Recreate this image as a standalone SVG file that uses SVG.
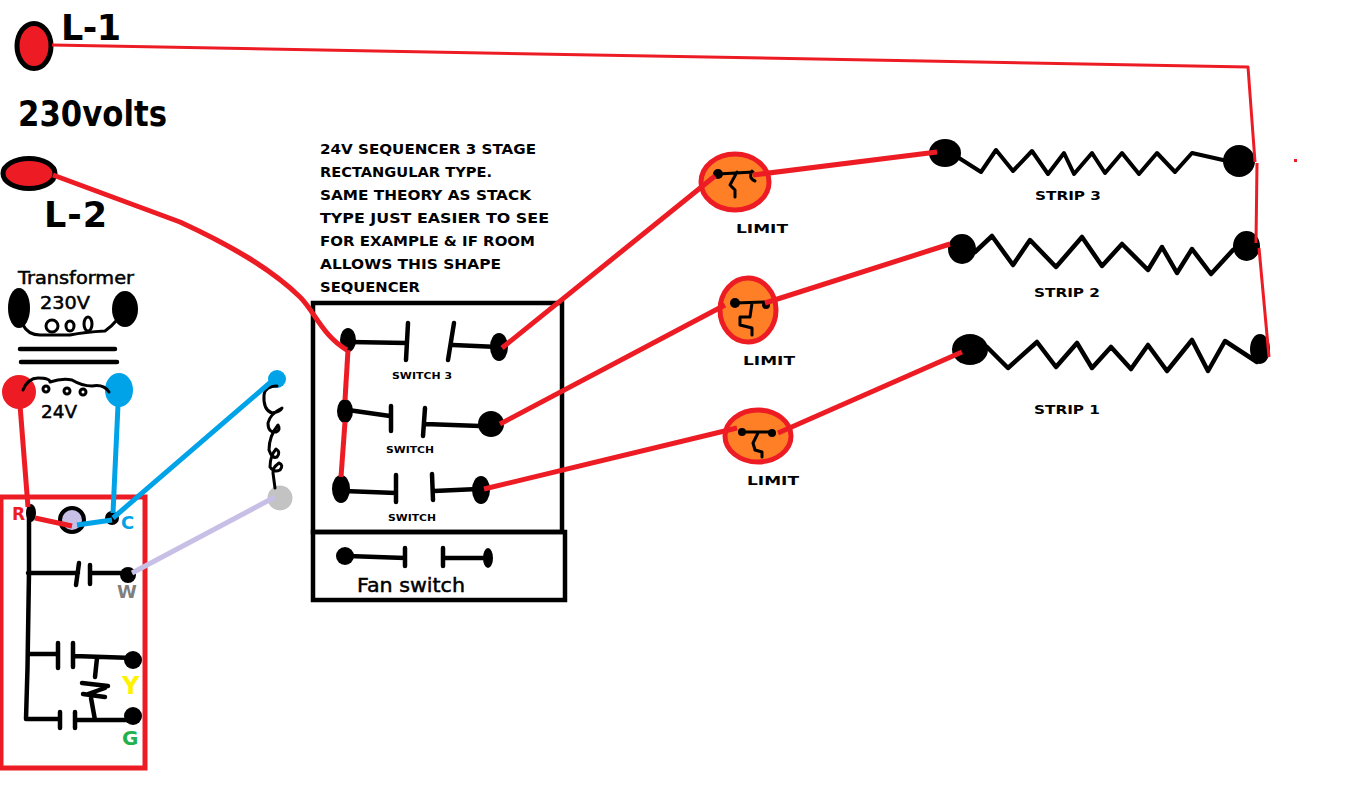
<svg xmlns="http://www.w3.org/2000/svg" width="1354" height="808" viewBox="0 0 1354 808">
<style>
text{font-family:"DejaVu Sans","Liberation Sans",sans-serif;fill:#000}
.t{font-weight:bold;font-size:13.5px}
.s{font-weight:bold;font-size:8.5px}
.l{font-weight:bold;font-size:13px}
.h{stroke:#000;stroke-width:.5px}
.big{font-size:35px;font-weight:bold}
.k{fill:none;stroke:#000;stroke-width:4.500;stroke-linecap:round;stroke-linejoin:round}
.k3{fill:none;stroke:#000;stroke-width:3;stroke-linecap:round;stroke-linejoin:round}
.r{fill:none;stroke:#ed1c24;stroke-width:5;stroke-linejoin:round}
.r3{fill:none;stroke:#ed1c24;stroke-width:3;stroke-linejoin:round}
.b{fill:none;stroke:#00a2e8;stroke-width:5}
.v{fill:none;stroke:#c8bfe7;stroke-width:5}
.box{fill:none;stroke:#000;stroke-width:4.500}
.lim{fill:#ff7f27;stroke:#ed1c24;stroke-width:5}
</style>
<rect width="1354" height="808" fill="#fff"/>
<g id="labels">
<text class="big" x="61" y="40" textLength="60" lengthAdjust="spacing">L-1</text>
<text class="big" x="18" y="126" textLength="149" lengthAdjust="spacingAndGlyphs">230volts</text>
<text class="big" x="44" y="227" textLength="63" lengthAdjust="spacing">L-2</text>
<text class="h" x="18" y="284" style="font-size:17px" textLength="116" lengthAdjust="spacingAndGlyphs">Transformer</text>
<text class="h" x="40" y="309" style="font-size:18px" textLength="50" lengthAdjust="spacingAndGlyphs">230V</text>
<text class="h" x="41" y="418" style="font-size:18px" textLength="36" lengthAdjust="spacingAndGlyphs">24V</text>
<g class="t">
<text x="320" y="154" textLength="216" lengthAdjust="spacingAndGlyphs">24V SEQUENCER 3 STAGE</text>
<text x="320" y="177" textLength="172" lengthAdjust="spacingAndGlyphs">RECTANGULAR TYPE.</text>
<text x="320" y="200" textLength="211" lengthAdjust="spacingAndGlyphs">SAME THEORY AS STACK</text>
<text x="320" y="223" textLength="229" lengthAdjust="spacingAndGlyphs">TYPE JUST EASIER TO SEE</text>
<text x="320" y="246" textLength="215" lengthAdjust="spacingAndGlyphs">FOR EXAMPLE &amp; IF ROOM</text>
<text x="320" y="269" textLength="181" lengthAdjust="spacingAndGlyphs">ALLOWS THIS SHAPE</text>
<text x="320" y="292" textLength="100" lengthAdjust="spacingAndGlyphs">SEQUENCER</text>
</g>
<text class="s" x="392" y="379" textLength="60" lengthAdjust="spacingAndGlyphs">SWITCH 3</text>
<text class="s" x="386" y="453" textLength="48" lengthAdjust="spacingAndGlyphs">SWITCH</text>
<text class="s" x="388" y="521" textLength="48" lengthAdjust="spacingAndGlyphs">SWITCH</text>
<text class="h" x="357" y="592" style="font-size:20px" textLength="108" lengthAdjust="spacingAndGlyphs">Fan switch</text>
<text class="l" x="736" y="233" textLength="52" lengthAdjust="spacingAndGlyphs">LIMIT</text>
<text class="l" x="743" y="365" textLength="52" lengthAdjust="spacingAndGlyphs">LIMIT</text>
<text class="l" x="747" y="485" textLength="52" lengthAdjust="spacingAndGlyphs">LIMIT</text>
<text class="l" x="1035" y="200" textLength="66" lengthAdjust="spacingAndGlyphs">STRIP 3</text>
<text class="l" x="1034" y="297" textLength="66" lengthAdjust="spacingAndGlyphs">STRIP 2</text>
<text class="l" x="1034" y="414" textLength="66" lengthAdjust="spacingAndGlyphs">STRIP 1</text>
<text x="12" y="520" style="font-size:17px;font-weight:bold;fill:#ed1c24">R</text>
<text x="121" y="529" style="font-size:18px;font-weight:bold;fill:#00a2e8">C</text>
<text x="117" y="598" style="font-size:18px;font-weight:bold;fill:#7f7f7f">W</text>
<text x="122" y="694" style="font-size:24px;font-weight:bold;fill:#fff200">Y</text>
<text x="122" y="745" style="font-size:20px;font-weight:bold;fill:#22b14c">G</text>
</g>
<g id="source">
<ellipse cx="34" cy="46" rx="17" ry="22.500" fill="#ed1c24" stroke="#000" stroke-width="5"/>
<ellipse cx="29" cy="173.500" rx="26" ry="15" fill="#ed1c24" stroke="#000" stroke-width="5"/>
</g>
<g id="transformer">
<ellipse cx="19" cy="308" rx="11" ry="20" fill="#000"/>
<ellipse cx="125" cy="309" rx="13" ry="18" fill="#000"/>
<path class="k3" d="M23 325Q28 335 40 335H70Q85 332 105 331Q112 326 116 321"/>
<ellipse class="k3" cx="52" cy="326" rx="6" ry="6"/>
<ellipse class="k3" cx="70" cy="326" rx="4" ry="5"/>
<ellipse class="k3" cx="88" cy="324" rx="4" ry="7"/>
<path class="k" d="M20 349H115M21 362H117"/>
<circle cx="19" cy="392" r="17" fill="#ed1c24"/>
<ellipse cx="119" cy="390" rx="14" ry="17" fill="#00a2e8"/>
<path class="k3" d="M23 390Q28 378 38 378Q50 378 50 382Q62 378 72 380Q82 386 92 386Q104 384 109 392"/>
<ellipse class="k3" cx="46" cy="389" rx="3" ry="3"/>
<ellipse class="k3" cx="67" cy="391" rx="3" ry="3"/>
<ellipse class="k3" cx="83" cy="392" rx="3" ry="3"/>
<circle cx="277" cy="379" r="9" fill="#00a2e8"/>
<circle cx="280" cy="498" r="12.500" fill="#c3c3c3"/>
<path class="k3" d="M277 386Q265 386 264 395Q263 410 272 413Q280 412 282 408Q270 414 268 423Q268 433 276 432Q281 430 278 425Q269 436 269 450Q272 459 277 457Q281 452 276 449Q270 456 270 467Q274 473 280 470Q284 465 279 463Q272 468 273 473L275 488"/>
</g>
<g id="thermostat">
<rect x="1" y="497" width="144" height="271" fill="none" stroke="#ed1c24" stroke-width="5"/>
<ellipse cx="31" cy="513" rx="5" ry="9" fill="#000"/>
<circle cx="72" cy="520" r="12" fill="#c8bfe7" stroke="#000" stroke-width="4"/>
<circle cx="112" cy="518" r="7" fill="#000"/>
<circle cx="128" cy="575" r="8" fill="#000"/>
<circle cx="133" cy="660" r="9" fill="#000"/>
<circle cx="133" cy="716" r="9" fill="#000"/>
<path class="k" d="M29 515V572L27.500 668L26 719H60M28 573H78M79 563L76 585M90 565V584M92 573H128M28 654H58M58 643V668M73 643V667M74 656L133 658M60 712V728M75 712V728M75 720H133M97 658L95 677M82 683L108 686M83 694L105 697M105 688L88 694M91 698L95 720"/>
</g>
<g id="sequencer">
<rect x="313" y="303" width="249" height="229" class="box"/>
<rect x="313" y="532" width="252" height="68" class="box"/>
<ellipse cx="348" cy="340" rx="8" ry="12" fill="#000"/>
<ellipse cx="499" cy="347" rx="9" ry="14" fill="#000"/>
<path class="k" d="M350 342L407 343M408 323L406 360M454 323L448 360M453 345L498 347"/>
<ellipse cx="345" cy="411" rx="8" ry="12" fill="#000"/>
<circle cx="491" cy="424" r="13" fill="#000"/>
<path class="k" d="M348 410L390 416M391 406V431M425 408L423 436M425 424L480 426"/>
<ellipse cx="341" cy="489" rx="9" ry="14" fill="#000"/>
<ellipse cx="481" cy="490" rx="9" ry="14" fill="#000"/>
<path class="k" d="M344 491L396 493M396 475V502M432 474L433 500M434 491L478 489"/>
<circle cx="345" cy="556" r="9" fill="#000"/>
<ellipse cx="488" cy="558" rx="5" ry="10" fill="#000"/>
<path class="k" d="M348 556L405 558M405 548V566M443 548V566M443 558H488"/>
</g>
<g id="limits">
<g id="limit3">
<ellipse cx="735" cy="182" rx="34" ry="28" class="lim"/>
<circle cx="718" cy="174" r="5" fill="#000"/>
<path class="k3" d="M718 174L753 172M752 171Q748 178 755 181M737 172L730 185L735 190L735 197"/>
</g>
<g id="limit2">
<ellipse cx="748" cy="310" rx="28" ry="32" class="lim"/>
<circle cx="735" cy="303" r="5" fill="#000"/>
<circle cx="766" cy="305" r="4" fill="#000"/>
<path class="k3" d="M735 303L765 302M752 303L750 317L740 317L740 325L752 328L752 335"/>
</g>
<g id="limit1">
<ellipse cx="758" cy="436" rx="33" ry="26" class="lim"/>
<circle cx="742" cy="432" r="4" fill="#000"/>
<circle cx="772" cy="433" r="4" fill="#000"/>
<path class="k3" d="M742 432L772 432M758 433L753 443L755 450L762 452L762 457"/>
</g>
</g>
<g id="strips">
<g id="strip3">
<ellipse cx="945" cy="153" rx="16" ry="14" fill="#000"/>
<circle cx="1239" cy="161" r="16" fill="#000"/>
<path class="k" d="M959 158L981 172L996 150L1013 171L1032 151L1048 174L1064 153L1074 174L1092 153L1105 173L1122 153L1139 174L1157 153L1175 172L1192 153L1223 160" style="stroke-width:4"/>
</g>
<g id="strip2">
<ellipse cx="962" cy="249" rx="14" ry="15" fill="#000"/>
<ellipse cx="1246.500" cy="246" rx="13.500" ry="15" fill="#000"/>
<path class="k" d="M975 252L992 236L1013 265L1030 240L1056 267L1082 237L1102 266L1122 244L1148 270L1162 247L1177 273L1192 249L1211 274L1233 250"/>
</g>
<g id="strip1">
<ellipse cx="970" cy="349.500" rx="18" ry="15.500" fill="#000"/>
<ellipse cx="1260" cy="349" rx="10" ry="15" fill="#000"/>
<path class="k" d="M987 347L1008 368L1037 342L1056 367L1077 343L1092 368L1111 347L1131 369L1148 345L1167 371L1192 340L1208 371L1225 341L1257 362"/>
</g>
<rect id="speck" x="1294" y="159" width="3" height="3" fill="#ed1c24"/>
</g>
<g id="connectors">
<path class="r3" d="M52 45L1248 67L1255 162"/>
<path class="r3" d="M1257 163L1256 243"/>
<path class="r3" d="M1259 248L1269 357"/>
<path class="r" d="M53 175L180 222C230 245 270 268 300 297C315 312 322 335 347 350"/>
<path class="r" d="M348 350L345 400"/>
<path class="r" d="M345 422L341 477"/>
<path class="r" d="M502 348L715 176"/>
<path class="r" d="M500 424L725 305"/>
<path class="r" d="M484 489L737 428"/>
<path class="r" d="M753 175L937 152"/>
<path class="r" d="M765 303L950 244"/>
<path class="r" d="M778 433L962 352"/>
<path class="r" d="M20 405L28 507"/>
<path class="r" d="M35 518L72 526"/>
<path class="b" d="M118 405L113 513"/>
<path class="b" d="M77 525L112 520"/>
<path class="b" d="M113 518L272 381"/>
<path class="v" d="M132 573L275 497"/>
</g>
</svg>
